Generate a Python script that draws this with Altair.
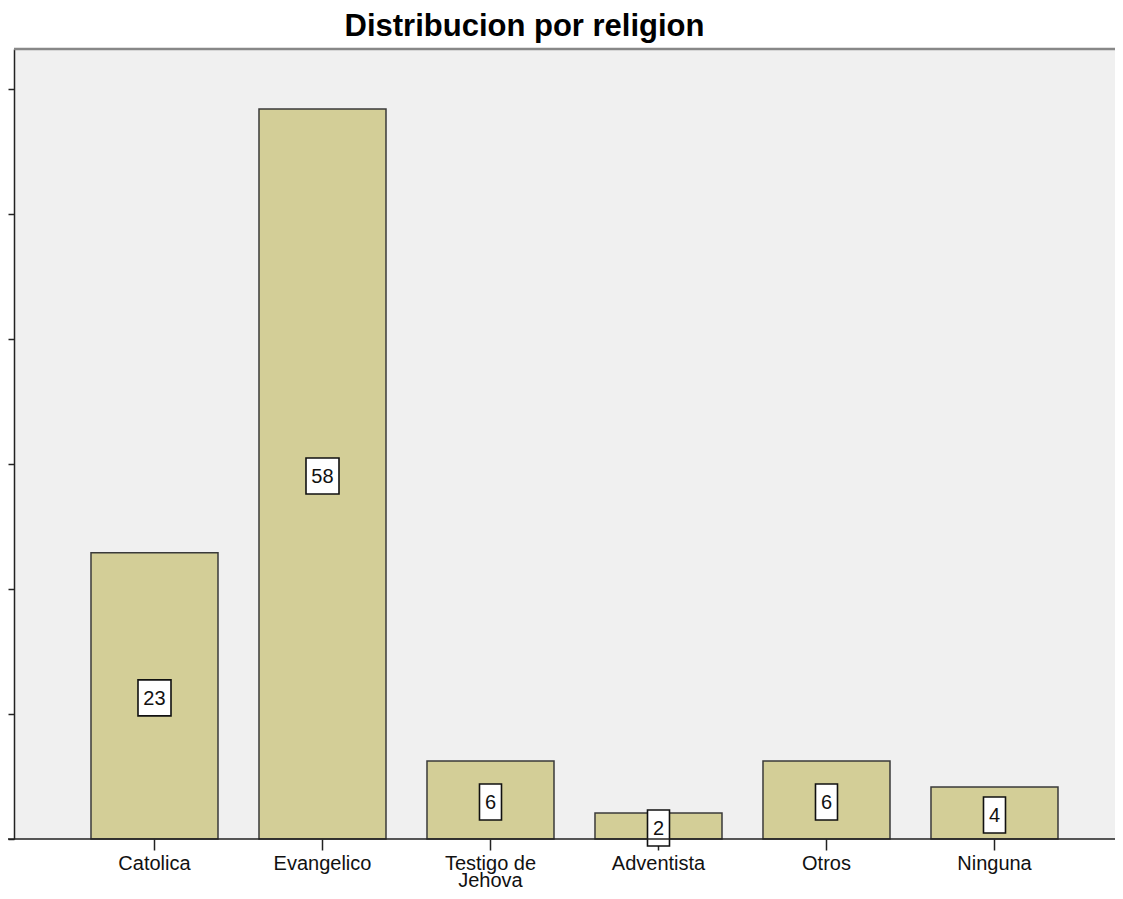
import altair as alt
import pandas as pd

categorias = ["Catolica", "Evangelico", "Testigo de Jehova", "Adventista", "Otros", "Ninguna"]
porcentajes = [22.9, 58.4, 6.24, 2.08, 6.24, 4.16]
etiquetas = ["23", "58", "6", "2", "6", "4"]
ticks_y = [0, 10, 20, 30, 40, 50, 60]

df = pd.DataFrame({"religion": categorias, "valor": porcentajes, "etiqueta": etiquetas})

W, H = 1101, 790
TOTAL_H = 883
PAD_TOP = 41
FONT = "Liberation Sans"

x_scale = alt.Scale(paddingInner=0.244, paddingOuter=0.3988, align=0.5746)
y_scale = alt.Scale(domain=[0, 63.2], nice=False, zero=True)

x_axis = alt.Axis(
    title=None, labelAngle=0, domain=False, tickSize=11, tickColor="#222", tickWidth=1.5,
    labelFont=FONT, labelFontSize=20, labelColor="#111", labelPadding=3, labelLineHeight=17,
    labelExpr="datum.label == 'Testigo de Jehova' ? ['Testigo de', 'Jehova'] : datum.label",
)
y_axis = alt.Axis(
    title=None, labels=False, values=ticks_y, tickSize=6, grid=False,
    domainColor="#222", tickColor="#222", domainWidth=1.5, tickWidth=1.5,
)

base = alt.Chart(df)
X = alt.X("religion:N", sort=categorias, scale=x_scale, axis=x_axis)
Xn = alt.X("religion:N", sort=categorias, scale=x_scale)

bars = base.mark_bar(color="#d3ce97", stroke="#3a3a3a", strokeWidth=1.5).encode(
    x=X, y=alt.Y("valor:Q", scale=y_scale, axis=y_axis)
)

mid = base.transform_calculate(mid="datum.valor / 2")

box2 = mid.transform_filter("length(datum.etiqueta) == 2").mark_bar(
    width=33, fill="white", stroke="#111", strokeWidth=1.6, yOffset=-16, y2Offset=20
).encode(x=Xn, y=alt.Y("mid:Q", scale=y_scale), y2="mid:Q")

box1 = mid.transform_filter("length(datum.etiqueta) == 1").mark_bar(
    width=22, fill="white", stroke="#111", strokeWidth=1.6, yOffset=-16, y2Offset=20
).encode(x=Xn, y=alt.Y("mid:Q", scale=y_scale), y2="mid:Q")

texts = mid.mark_text(font=FONT, fontSize=20, color="#111", baseline="middle", dy=3).encode(
    x=Xn, y=alt.Y("mid:Q", scale=y_scale), text="etiqueta:N"
)

one = alt.Chart(pd.DataFrame({"k": [0]}))
top_border = one.mark_rule(color="#888888", strokeWidth=2.5).encode(
    x=alt.value(0), x2=alt.value(W), y=alt.value(0)
)
x_line = one.mark_rule(color="#222", strokeWidth=1.5).encode(
    x=alt.value(-6), x2=alt.value(W), y=alt.value(H)
)

chart = alt.layer(bars, box2, box1, texts, top_border, x_line).properties(
    width=W, height=H,
    title=alt.Title("Distribucion por religion", fontSize=31, font=FONT, fontWeight="bold",
                    color="#000", dx=-40, offset=5, anchor="middle"),
    autosize=alt.AutoSizeParams(type="none"),
    padding={"left": 6, "top": PAD_TOP, "right": 0, "bottom": TOTAL_H - PAD_TOP - H},
    background="white",
).configure_view(fill="#f0f0f0", stroke="transparent")

chart.save("out.html", embed_options={"renderer": "svg", "actions": False})
